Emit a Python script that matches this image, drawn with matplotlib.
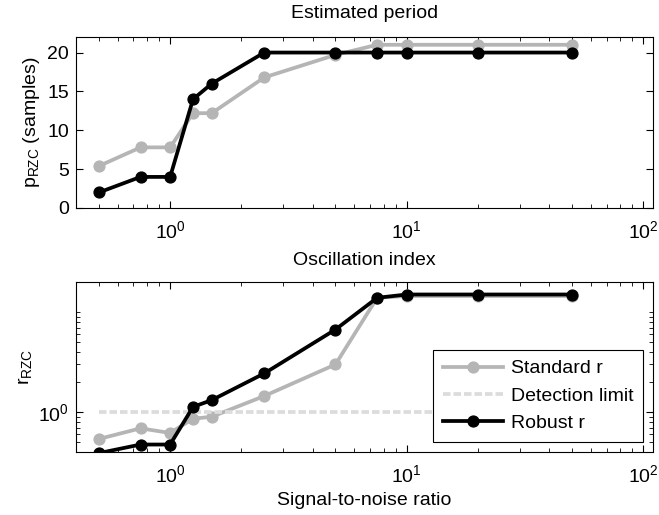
import numpy as np
import matplotlib
matplotlib.use('Agg')
import matplotlib.pyplot as plt
from matplotlib.ticker import FixedLocator, LogLocator, NullFormatter, LogFormatterMathtext

plt.rcParams.update({
    'font.family': ['Liberation Sans', 'DejaVu Sans'],
    'font.size': 14,
    'axes.linewidth': 0.8,
    'xtick.direction': 'in',
    'ytick.direction': 'in',
    'xtick.top': True,
    'ytick.right': True,
    'mathtext.fontset': 'custom',
    'mathtext.rm': 'Liberation Sans',
    'mathtext.it': 'Liberation Sans',
})

# data
x = [0.5, 0.75, 1.0, 1.25, 1.5, 2.5, 5, 7.5, 10, 20, 50]
period_standard = [5.4, 7.8, 7.8, 12.2, 12.2, 16.8, 19.7, 21.0, 21.0, 21.0, 21.0]
period_robust = [2, 4, 4, 14, 16, 20, 20, 20, 20, 20, 20]
r_standard = [0.54, 0.69, 0.62, 0.86, 0.90, 1.45, 3.0, 13.9, 14.5, 14.5, 14.5]
r_robust = [0.39, 0.475, 0.475, 1.13, 1.32, 2.44, 6.7, 13.9, 15.0, 15.0, 15.0]
detection_x = [0.5, 50]
detection_y = [1, 1]

gray = '#b5b5b5'
light = '#dcdcdc'

fig = plt.figure(figsize=(6.59, 5.15), dpi=100)
W, H = 659, 515
ax1 = fig.add_axes([76 / W, 1 - 208 / H, 577 / W, 171 / H])
ax2 = fig.add_axes([76 / W, 1 - 452 / H, 577 / W, 170 / H])

lw, ms = 2.7, 7.8

ax1.plot(x, period_standard, '-o', color=gray, lw=lw, ms=ms, mec=gray)
ax1.plot(x, period_robust, '-o', color='black', lw=lw, ms=ms)
ax1.set_xscale('log')
ax1.set_xlim(0.4, 110)
ax1.set_ylim(0, 22)
ax1.set_yticks([0, 5, 10, 15, 20])
ax1.set_title('Estimated period', fontsize=14, pad=14)
ax1.set_xlabel('Oscillation index', labelpad=7)
ax1.set_ylabel(r'p$_{\mathrm{RZC}}$ (samples)', labelpad=4)

ax2.plot(x, r_standard, '-o', color=gray, lw=lw, ms=ms, mec=gray, label='Standard r')
ax2.plot(detection_x, detection_y, '--', color=light, lw=lw, dashes=(2, 0.8), label='Detection limit')
ax2.plot(x, r_robust, '-o', color='black', lw=lw, ms=ms, label='Robust r')
ax2.set_xscale('log')
ax2.set_yscale('log')
ax2.set_xlim(0.4, 110)
ax2.set_ylim(0.4, 20)
ax2.yaxis.set_major_locator(FixedLocator([1]))
ax2.yaxis.set_major_formatter(LogFormatterMathtext())
ax2.yaxis.set_minor_locator(LogLocator(base=10, subs=np.arange(1, 10), numticks=20))
ax2.yaxis.set_minor_formatter(NullFormatter())
ax2.set_xlabel('Signal-to-noise ratio', labelpad=4)
ax2.set_ylabel(r'r$_{\mathrm{RZC}}$', labelpad=3)
leg = ax2.legend(loc='lower right', bbox_to_anchor=(0.983, 0.06), fancybox=False,
                 edgecolor='black', framealpha=1, fontsize=14, handlelength=3.1,
                 borderpad=0.5, labelspacing=0.5, handletextpad=0.4, borderaxespad=0)
leg.get_frame().set_linewidth(0.8)

for ax in (ax1, ax2):
    ax.xaxis.set_major_locator(LogLocator(base=10, numticks=10))
    ax.xaxis.set_minor_locator(LogLocator(base=10, subs=np.arange(2, 10), numticks=20))
    ax.xaxis.set_minor_formatter(NullFormatter())
    ax.tick_params(which='major', length=5, width=0.8, labelsize=14, pad=5)
    ax.tick_params(axis='x', which='major', pad=9)
    ax.tick_params(which='minor', length=3, width=0.6)

fig.savefig('out.png', dpi=100)
